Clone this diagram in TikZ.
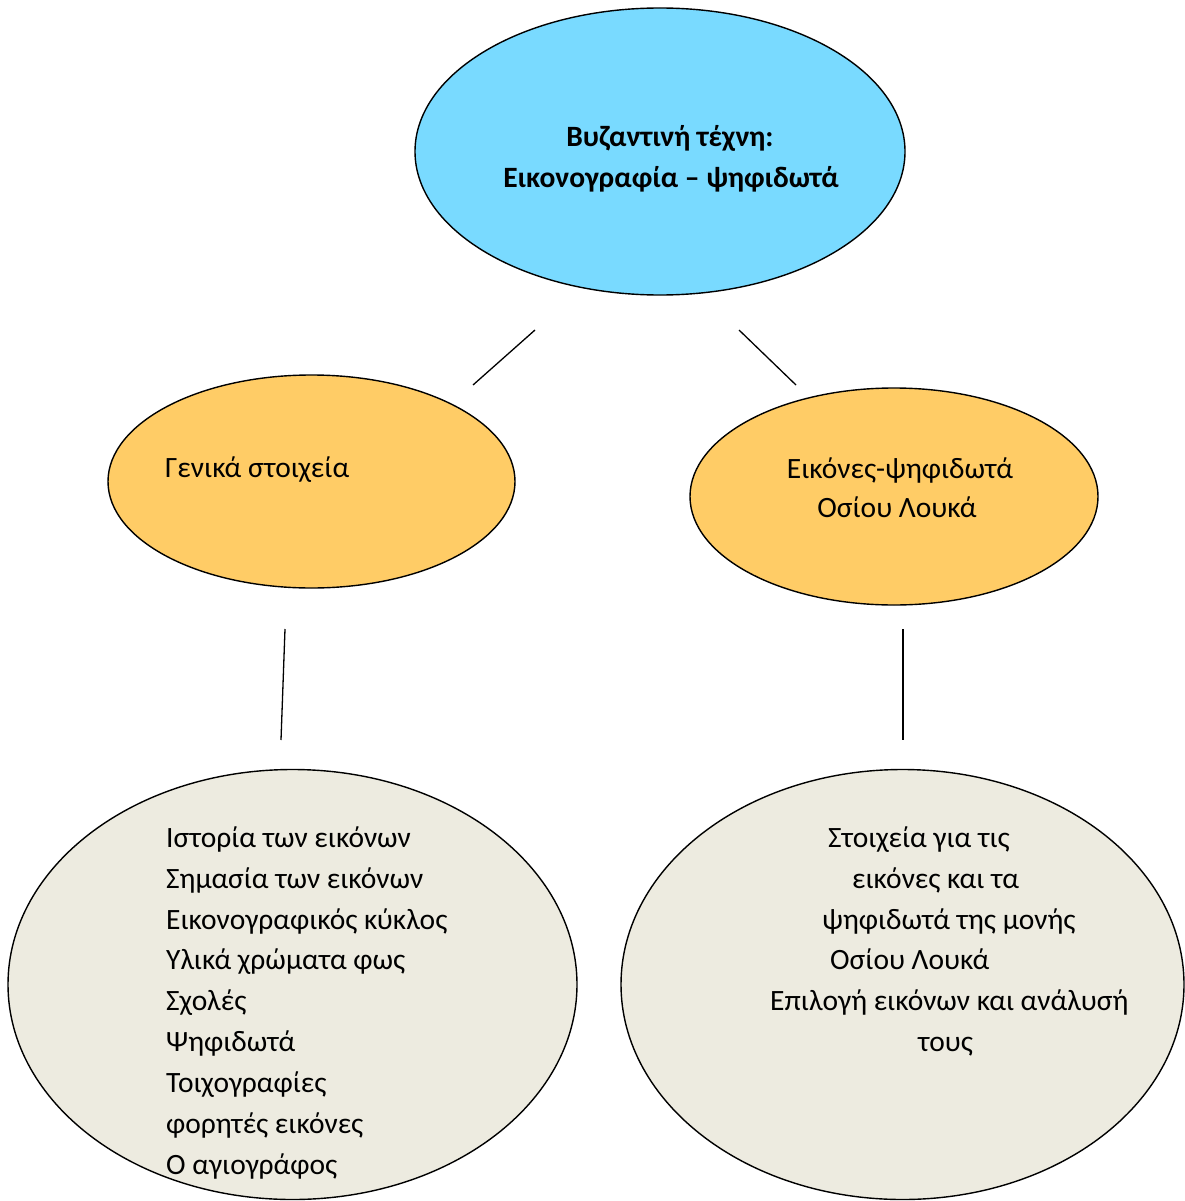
\documentclass[tikz,border=0pt]{standalone}
\usepackage{fontspec}
\setmainfont{Carlito}
\usetikzlibrary{shapes.geometric}
\definecolor{topblue}{RGB}{121,218,255}
\definecolor{midorange}{RGB}{255,204,102}
\definecolor{lowgrey}{RGB}{237,235,224}
\tikzset{
  bubble/.style={ellipse, draw=black, line width=1.4pt, inner sep=0pt},
  txt/.style={anchor=base west, inner sep=0pt, font=\fontsize{29.5}{41}\selectfont},
  link/.style={line width=1.3pt}
}
\begin{document}
\begin{tikzpicture}[x=1pt, y=-1pt]
    \useasboundingbox (0,0) rectangle (1184,1201);
    % ellipses
    \node[bubble, fill=topblue, minimum width=490pt, minimum height=287pt] (top) at (660,151.5) {};
    \node[bubble, fill=midorange, minimum width=407pt, minimum height=213pt] (gen) at (311.5,481.5) {};
    \node[bubble, fill=midorange, minimum width=408pt, minimum height=217pt] (osl) at (894,496.5) {};
    \node[bubble, fill=lowgrey, minimum width=569pt, minimum height=430pt] (lowl) at (292.5,984.5) {};
    \node[bubble, fill=lowgrey, minimum width=563pt, minimum height=430pt] (lowr) at (902.5,984.5) {};
    % texts
    \node[txt, anchor=base, font=\fontsize{29.5}{41}\selectfont\bfseries] (t1) at (670,147) {Βυζαντινή τέχνη:};
    \node[txt, anchor=base, font=\fontsize{29.5}{41}\selectfont\bfseries] (t2) at (671,188) {Εικονογραφία – ψηφιδωτά};
    \node[txt] (g1) at (165,477) {Γενικά στοιχεία};
    \node[txt, anchor=base] (o1) at (900,478) {Εικόνες-ψηφιδωτά};
    \node[txt, anchor=base] (o2) at (897,517) {Οσίου Λουκά};
    \node[txt] (l1) at (166,847) {Ιστορία των εικόνων};
    \node[txt] (l2) at (166,888) {Σημασία των εικόνων};
    \node[txt] (l3) at (166,929) {Εικονογραφικός κύκλος};
    \node[txt] (l4) at (166,969) {Υλικά χρώματα φως};
    \node[txt] (l5) at (166,1010) {Σχολές};
    \node[txt] (l6) at (166,1051) {Ψηφιδωτά};
    \node[txt] (l7) at (166,1092) {Τοιχογραφίες};
    \node[txt] (l8) at (166,1133) {φορητές εικόνες};
    \node[txt] (l9) at (166,1174) {Ο αγιογράφος};
    \node[txt] (r1) at (828,847) {Στοιχεία για τις};
    \node[txt] (r2) at (852,888) {εικόνες και τα};
    \node[txt] (r3) at (822,929) {ψηφιδωτά της μονής};
    \node[txt] (r4) at (830,969) {Οσίου Λουκά};
    \node[txt] (r5) at (770,1010) {Επιλογή εικόνων και ανάλυσή};
    \node[txt] (r6) at (918,1051) {τους};
    % loose lines
    \coordinate (a1) at (535,330);
    \coordinate (a2) at (473,385);
    \coordinate (b1) at (739,330);
    \coordinate (b2) at (796,385);
    \coordinate (c1) at (285,629);
    \coordinate (c2) at (281,740);
    \coordinate (d1) at (903,629);
    \coordinate (d2) at (903,740);
    \draw[link] (a1) -- (a2);
    \draw[link] (b1) -- (b2);
    \draw[link] (c1) -- (c2);
    \draw[link] (d1) -- (d2);
\end{tikzpicture}
\end{document}
